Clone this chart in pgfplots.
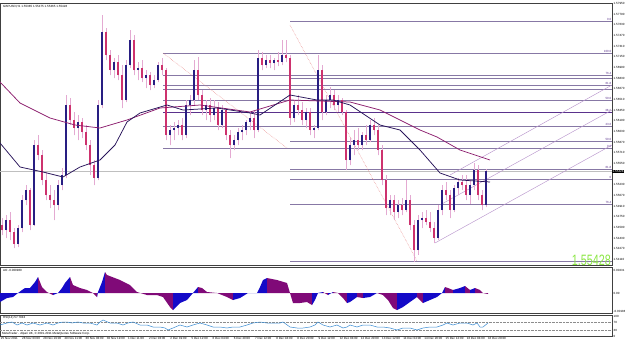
\documentclass[border=0pt]{standalone}
\usepackage{pgfplots}
\usepackage{pgfplotstable}
\pgfplotsset{compat=1.18}
\usepackage{fontspec}
\setmainfont{Liberation Sans}
\definecolor{upc}{RGB}{40,30,130}
\definecolor{dnc}{RGB}{205,50,110}
\definecolor{wick}{RGB}{228,170,210}
\definecolor{maA}{RGB}{40,20,90}
\definecolor{maB}{RGB}{140,30,110}
\definecolor{fibc}{RGB}{135,120,165}
\definecolor{fibd}{RGB}{90,50,140}
\definecolor{chan}{RGB}{185,150,205}
\definecolor{dotc}{RGB}{230,130,130}
\definecolor{aob}{RGB}{20,10,200}
\definecolor{aop}{RGB}{128,10,120}
\definecolor{rsic}{RGB}{60,140,210}
\definecolor{lgreen}{RGB}{140,230,70}
\newcommand{\tinyf}{\fontsize{3.0}{3.3}\selectfont}
\tikzset{fl/.style={pos=1, anchor=south east, font=\tinyf, text=fibd, inner sep=0.4pt}}
\pgfplotsset{cbar/.style={only marks, mark=*, mark size=0pt, mark options={draw=none, fill=none}}}

\pgfplotstableread{
x o h l c
2 1.54625 1.54730 1.54475 1.54550
6 1.54550 1.54775 1.54430 1.54700
10 1.54700 1.54820 1.54400 1.54520
14 1.54520 1.54580 1.54280 1.54340
18 1.54340 1.54625 1.54295 1.54580
22 1.54580 1.55075 1.54520 1.55000
26 1.55000 1.55225 1.54925 1.55150
30 1.55150 1.55180 1.54550 1.54625
34 1.54625 1.55900 1.54610 1.55825
38 1.55825 1.55975 1.55600 1.55675
42 1.55675 1.55750 1.55225 1.55300
46 1.55300 1.55420 1.55000 1.55075
50 1.55075 1.55225 1.54880 1.55000
54 1.55000 1.55150 1.54700 1.54925
58 1.54925 1.55300 1.54850 1.55225
62 1.55225 1.55480 1.55150 1.55375
66 1.55375 1.56575 1.55330 1.56425
70 1.56425 1.56530 1.56125 1.56200
74 1.56200 1.56320 1.55975 1.56080
78 1.56080 1.56275 1.55900 1.56170
82 1.56170 1.56230 1.55930 1.56020
86 1.56020 1.56125 1.55750 1.55825
90 1.55825 1.55900 1.55375 1.55525
94 1.55525 1.55600 1.55225 1.55330
98 1.55330 1.56500 1.55300 1.56425
102 1.56425 1.57775 1.56380 1.57520
106 1.57520 1.57580 1.57100 1.57175
110 1.57175 1.57250 1.56875 1.56950
114 1.56950 1.57130 1.56830 1.57070
118 1.57070 1.57175 1.56800 1.56875
122 1.56875 1.57025 1.56380 1.56500
126 1.56500 1.57100 1.56470 1.57025
130 1.57025 1.57550 1.56980 1.57400
134 1.57400 1.57475 1.56875 1.56950
138 1.56950 1.57070 1.56800 1.56980
142 1.56980 1.57100 1.56770 1.56830
146 1.56830 1.56950 1.56680 1.56875
150 1.56875 1.56920 1.56650 1.56725
154 1.56725 1.56875 1.56680 1.56800
158 1.56800 1.57070 1.56770 1.57025
162 1.57025 1.57130 1.56875 1.56950
166 1.56950 1.56980 1.55900 1.55975
170 1.55975 1.56125 1.55825 1.56050
174 1.56050 1.56170 1.55900 1.56080
178 1.56080 1.56200 1.55975 1.56125
182 1.56125 1.56230 1.55900 1.55975
186 1.55975 1.56500 1.55930 1.56425
190 1.56425 1.56575 1.56275 1.56500
194 1.56500 1.57100 1.56425 1.56950
198 1.56950 1.57145 1.56500 1.56575
202 1.56575 1.56650 1.56275 1.56350
206 1.56350 1.56500 1.56200 1.56425
210 1.56425 1.56530 1.56170 1.56275
214 1.56275 1.56500 1.56200 1.56380
218 1.56380 1.56470 1.56050 1.56125
222 1.56125 1.56425 1.56080 1.56350
226 1.56350 1.56380 1.55900 1.55975
230 1.55975 1.56050 1.55630 1.55825
234 1.55825 1.55975 1.55750 1.55900
238 1.55900 1.56080 1.55825 1.56020
242 1.56020 1.56125 1.55900 1.56050
246 1.56050 1.56200 1.55975 1.56170
250 1.56170 1.56320 1.56050 1.56230
254 1.56230 1.56350 1.55930 1.56050
258 1.56050 1.57250 1.56020 1.57130
262 1.57130 1.57220 1.56950 1.57025
266 1.57025 1.57175 1.56980 1.57100
270 1.57100 1.57175 1.56980 1.57055
274 1.57055 1.57130 1.56950 1.57100
278 1.57100 1.57220 1.57010 1.57070
282 1.57070 1.57400 1.57025 1.57175
286 1.57175 1.57400 1.57070 1.57130
290 1.57130 1.57175 1.56125 1.56230
294 1.56230 1.56500 1.56170 1.56425
298 1.56425 1.56575 1.56275 1.56350
302 1.56350 1.56470 1.56125 1.56200
306 1.56200 1.56380 1.56080 1.56320
310 1.56320 1.56380 1.55975 1.56050
314 1.56050 1.56125 1.55930 1.56080
318 1.56080 1.57175 1.56050 1.56950
322 1.56950 1.57025 1.56200 1.56320
326 1.56320 1.56575 1.56275 1.56500
330 1.56500 1.56695 1.56380 1.56575
334 1.56575 1.56650 1.56350 1.56425
338 1.56425 1.56575 1.56320 1.56500
342 1.56500 1.56530 1.56275 1.56320
346 1.56320 1.56350 1.55450 1.55600
350 1.55600 1.55930 1.55525 1.55825
354 1.55825 1.56050 1.55675 1.55900
358 1.55900 1.56080 1.55750 1.55825
362 1.55825 1.56020 1.55750 1.55975
366 1.55975 1.56125 1.55825 1.55900
370 1.55900 1.56200 1.55870 1.56125
374 1.56125 1.56230 1.55975 1.56050
378 1.56050 1.56125 1.55675 1.55750
382 1.55750 1.55825 1.55225 1.55300
386 1.55300 1.55375 1.54775 1.54880
390 1.54880 1.55075 1.54775 1.55000
394 1.55000 1.55075 1.54700 1.54820
398 1.54820 1.55000 1.54730 1.54925
402 1.54925 1.55030 1.54775 1.54850
406 1.54850 1.55300 1.54820 1.55000
410 1.55000 1.55075 1.54550 1.54625
414 1.54625 1.54700 1.54070 1.54250
418 1.54250 1.54775 1.54175 1.54700
422 1.54700 1.54820 1.54580 1.54730
426 1.54730 1.54850 1.54625 1.54670
430 1.54670 1.54820 1.54520 1.54580
434 1.54580 1.54670 1.54355 1.54430
438 1.54430 1.54925 1.54400 1.54850
442 1.54850 1.55225 1.54775 1.55150
446 1.55150 1.55270 1.55000 1.55075
450 1.55075 1.55150 1.54730 1.54850
454 1.54850 1.55225 1.54820 1.55180
458 1.55180 1.55330 1.55075 1.55270
462 1.55270 1.55375 1.55150 1.55225
466 1.55225 1.55375 1.55000 1.55075
470 1.55075 1.55300 1.54940 1.55225
474 1.55225 1.55555 1.55150 1.55450
478 1.55450 1.55525 1.55000 1.55075
482 1.55075 1.55150 1.54850 1.54925
486 1.54925 1.55465 1.54895 1.55428
}\candles

\begin{document}
\begin{tikzpicture}
\useasboundingbox (0pt,0pt) rectangle (625pt,-343pt);
% ---------------- main price panel ----------------
\begin{axis}[
  at={(0pt,-3pt)}, anchor=north west,
  scale only axis, width=612pt, height=262pt,
  xmin=0, xmax=612, ymin=1.54025, ymax=1.57955,
  clip=false,
  axis line style={black!75, line width=0.4pt},
  xtick=\empty,
  ytick pos=right, yticklabel pos=right,
  tick align=outside, major tick length=1.2pt,
  tick style={black, line width=0.3pt},
  ytick={1.5795,1.5779,1.5763,1.5747,1.5731,1.5715,1.5699,1.5683,1.5667,1.5651,1.5635,1.5619,1.5603,1.5587,1.5571,1.5555,1.5523,1.5507,1.5491,1.5475,1.5459,1.5443,1.5427,1.5411},
  yticklabels={1.57950,1.57790,1.57630,1.57470,1.57310,1.57150,1.56990,1.56830,1.56670,1.56510,1.56350,1.56190,1.56030,1.55870,1.55710,1.55550,1.55230,1.55070,1.54910,1.54750,1.54590,1.54430,1.54270,1.54110},
  yticklabel style={font=\tinyf, anchor=west, inner sep=0.3pt},
  scaled y ticks=false,
]
% current price line
\addplot[black!25, line width=0.4pt] coordinates {(0,1.55428) (612,1.55428)};
% fibonacci levels
\addplot[fibc, line width=0.5pt] coordinates {(290,1.57685) (612,1.57685)} node[fl]{0.0};
\addplot[fibc, line width=0.5pt] coordinates {(163,1.57205) (612,1.57205)} node[fl]{100.0};
\addplot[fibc, line width=0.5pt] coordinates {(163,1.56875) (612,1.56875)} node[fl]{76.4};
\addplot[fibc, line width=0.5pt] coordinates {(290,1.56830) (612,1.56830)};
\addplot[fibc, line width=0.5pt] coordinates {(163,1.56725) (612,1.56725)} node[fl]{61.8};
\addplot[fibc, line width=0.5pt] coordinates {(163,1.56665) (612,1.56665)};
\addplot[fibc, line width=0.5pt] coordinates {(163,1.56500) (612,1.56500)} node[fl]{50.0};
\addplot[fibd, line width=0.9pt] coordinates {(163,1.56320) (612,1.56320)} node[fl]{38.2};
\addplot[fibc, line width=0.5pt] coordinates {(163,1.56110) (612,1.56110)} node[fl]{23.6};
\addplot[fibc, line width=0.5pt] coordinates {(290,1.55885) (612,1.55885)} node[fl]{50.0};
\addplot[fibc, line width=0.5pt] coordinates {(163,1.55780) (612,1.55780)} node[fl]{0.0};
\addplot[fibc, line width=0.5pt] coordinates {(290,1.55465) (612,1.55465)} node[fl]{61.8};
\addplot[fibc, line width=0.5pt] coordinates {(290,1.55315) (612,1.55315)} node[fl]{0};
\addplot[fibc, line width=0.5pt] coordinates {(290,1.54940) (612,1.54940)} node[fl]{76.4};
\addplot[fibc, line width=0.5pt] coordinates {(290,1.54085) (612,1.54085)};
% fib trend lines
\addplot[dotc, densely dotted, line width=0.5pt] coordinates {(163,1.57205) (287,1.55780)};
\addplot[dotc, densely dotted, line width=0.5pt] coordinates {(290,1.57625) (417,1.54085)};
% channel
\addplot[chan, line width=0.45pt] coordinates {(435,1.54355) (612,1.55825)};
\addplot[chan, line width=0.45pt] coordinates {(440,1.54925) (612,1.56350)};
\addplot[chan, line width=0.45pt] coordinates {(450,1.55375) (612,1.56725)};
% wicks
\addplot[cbar, error bars/.cd, y dir=plus, y explicit, error mark=none,
  error bar style={wick, line width=0.6pt}]
  table[x=x, y=l, y error expr=\thisrow{h}-\thisrow{l}] {\candles};
% up bodies
\addplot[cbar, restrict expr to domain={\thisrow{c}-\thisrow{o}}{0:1},
  error bars/.cd, y dir=plus, y explicit, error mark=none,
  error bar style={upc, line width=1.3pt}]
  table[x=x, y=o, y error expr=\thisrow{c}-\thisrow{o}] {\candles};
% down bodies
\addplot[cbar, restrict expr to domain={\thisrow{c}-\thisrow{o}}{-1:0},
  error bars/.cd, y dir=plus, y explicit, error mark=none,
  error bar style={dnc, line width=1.3pt}]
  table[x=x, y=c, y error expr=\thisrow{o}-\thisrow{c}] {\candles};
% moving averages
\addplot[maB, line width=0.75pt] coordinates {(0,1.56770) (20,1.56455) (50,1.56230) (75,1.56125) (100,1.56080) (127,1.56200) (160,1.56380) (200,1.56425) (250,1.56320) (290,1.56500) (350,1.56470) (380,1.56350) (400,1.56200) (420,1.56050) (437,1.55945) (460,1.55750) (490,1.55600)};
\addplot[maA, line width=0.75pt] coordinates {(0,1.55855) (20,1.55495) (43,1.55420) (63,1.55345) (80,1.55495) (100,1.55600) (115,1.55825) (127,1.56170) (140,1.56305) (167,1.56425) (183,1.56350) (217,1.56380) (250,1.56305) (260,1.56275) (290,1.56575) (317,1.56500) (333,1.56500) (350,1.56425) (380,1.56125) (400,1.56050) (420,1.55750) (440,1.55405) (460,1.55300) (490,1.55270)};
% price box and big label
\node[fill=black, text=white, font=\tinyf, inner sep=0.5pt, anchor=west] at (axis cs:612,1.55428) {1.55428};
\node[anchor=base east, text=lgreen, font=\fontsize{15}{15}\selectfont, xscale=0.72, inner sep=0pt] at (axis cs:611,1.54010) {1.55428};
\end{axis}
\node[anchor=north west, inner sep=0pt, font=\tinyf] at (3pt,-5pt) {GBPUSD,H1 1.55385 1.55475 1.55365 1.55428};
% ---------------- AO panel ----------------
\begin{axis}[
  at={(0pt,-267pt)}, anchor=north west,
  scale only axis, width=612pt, height=46pt,
  xmin=0, xmax=612, ymin=-0.0020, ymax=0.0026,
  axis line style={black!75, line width=0.4pt},
  xtick=\empty,
  ytick pos=right, yticklabel pos=right,
  tick align=outside, major tick length=1.2pt,
  tick style={black, line width=0.3pt},
  ytick={0.0023,0,-0.0018},
  yticklabels={0.00231,0.00,-0.00188},
  yticklabel style={font=\tinyf, anchor=west, inner sep=0.3pt},
  scaled y ticks=false,
]
\addplot[fill=aob, draw=none] coordinates {(0,-0.0009) (7,-0.0005) (13,-0.0004) (18,0) (22,0.0003) (25,0.0005) (30,0.0005) (35,0.0011) (38,0.0016)} \closedcycle;
\addplot[fill=aop, draw=none] coordinates {(38,0.0016) (42,0.0006) (47,0.0001) (53,-0.0002)} \closedcycle;
\addplot[fill=aob, draw=none] coordinates {(53,-0.0002) (58,0) (62,0.0005) (65,0.0010) (70,0.0016)} \closedcycle;
\addplot[fill=aop, draw=none] coordinates {(70,0.0016) (73,0.0008) (80,0.0005) (87,0.0003) (93,0) (97,-0.0004)} \closedcycle;
\addplot[fill=aob, draw=none] coordinates {(97,-0.0004) (98,0.0001) (102,0.0011) (105,0.0021)} \closedcycle;
\addplot[fill=aop, draw=none] coordinates {(105,0.0021) (107,0.0018) (120,0.0013) (130,0.0008) (137,0.0001) (147,-0.0002) (157,-0.0002) (163,-0.0004) (170,-0.0014) (173,-0.0017)} \closedcycle;
\addplot[fill=aob, draw=none] coordinates {(173,-0.0017) (180,-0.0010) (187,-0.0007) (193,0) (198,0.0006)} \closedcycle;
\addplot[fill=aop, draw=none] coordinates {(198,0.0006) (202,0.0005) (207,0.0001) (217,0) (227,-0.0004) (233,-0.0007)} \closedcycle;
\addplot[fill=aob, draw=none] coordinates {(233,-0.0007) (240,-0.0005) (248,0) (257,0) (260,0.0006) (263,0.0013) (267,0.0015)} \closedcycle;
\addplot[fill=aop, draw=none] coordinates {(267,0.0015) (277,0.0013) (287,0.0010) (290,0) (293,-0.0010) (300,-0.0010) (307,-0.0009) (312,-0.0012)} \closedcycle;
\addplot[fill=aob, draw=none] coordinates {(312,-0.0012) (315,-0.0007) (318,0) (323,0.0001)} \closedcycle;
\addplot[fill=aop, draw=none] coordinates {(323,0.0001) (328,-0.0002)} \closedcycle;
\addplot[fill=aob, draw=none] coordinates {(328,-0.0002) (333,0.0001)} \closedcycle;
\addplot[fill=aop, draw=none] coordinates {(333,0.0001) (338,0) (343,-0.0005) (347,-0.0010)} \closedcycle;
\addplot[fill=aob, draw=none] coordinates {(347,-0.0010) (350,-0.0009) (357,-0.0004)} \closedcycle;
\addplot[fill=aop, draw=none] coordinates {(357,-0.0004) (363,-0.0005)} \closedcycle;
\addplot[fill=aob, draw=none] coordinates {(363,-0.0005) (370,-0.0004) (377,0)} \closedcycle;
\addplot[fill=aop, draw=none] coordinates {(377,0) (383,-0.0002) (388,-0.0007) (393,-0.0015) (397,-0.0017)} \closedcycle;
\addplot[fill=aob, draw=none] coordinates {(397,-0.0017) (403,-0.0014) (410,-0.0009) (417,-0.0004)} \closedcycle;
\addplot[fill=aop, draw=none] coordinates {(417,-0.0004) (423,-0.0010)} \closedcycle;
\addplot[fill=aob, draw=none] coordinates {(423,-0.0010) (430,-0.0007) (437,-0.0004) (442,0) (445,0.0006)} \closedcycle;
\addplot[fill=aop, draw=none] coordinates {(445,0.0006) (448,0.0005) (453,0.0003)} \closedcycle;
\addplot[fill=aob, draw=none] coordinates {(453,0.0003) (460,0.0005) (465,0.0007)} \closedcycle;
\addplot[fill=aop, draw=none] coordinates {(465,0.0007) (470,0.0003)} \closedcycle;
\addplot[fill=aob, draw=none] coordinates {(470,0.0003) (475,0.0005)} \closedcycle;
\addplot[fill=aop, draw=none] coordinates {(475,0.0005) (480,0.0003) (483,0) (488,-0.0001)} \closedcycle;
\end{axis}
\node[anchor=north west, inner sep=0pt, font=\tinyf] at (3pt,-269pt) {AO -0.000960};
% ---------------- RSI panel ----------------
\begin{axis}[
  at={(0pt,-315pt)}, anchor=north west,
  scale only axis, width=612pt, height=21pt,
  xmin=0, xmax=612, ymin=0, ymax=105,
  axis line style={black!75, line width=0.4pt},
  ytick pos=right, yticklabel pos=right,
  xtick pos=bottom,
  tick align=outside, major tick length=1.2pt,
  tick style={black, line width=0.3pt},
  ytick={100,70,30,0}, yticklabels={100,70,30,0},
  yticklabel style={font=\tinyf, anchor=west, inner sep=0.3pt},
  xtick={0,21.17,42.35,63.52,84.70,105.87,127.04,148.22,169.39,190.57,211.74,232.91,254.09,275.26,296.43,317.61,338.78,359.96,381.13,402.30,423.48,444.65,465.83,487.00},
  xticklabels={25 Nov 2011,28 Nov 03:00,28 Nov 19:00,29 Nov 11:00,30 Nov 03:00,30 Nov 19:00,1 Dec 11:00,2 Dec 03:00,2 Dec 19:00,5 Dec 12:00,6 Dec 04:00,6 Dec 20:00,7 Dec 12:00,8 Dec 04:00,8 Dec 20:00,9 Dec 12:00,12 Dec 04:00,12 Dec 20:00,13 Dec 12:00,14 Dec 04:00,14 Dec 20:00,15 Dec 12:00,16 Dec 04:00,16 Dec 20:00},
  xticklabel style={font=\tinyf, anchor=north west, inner sep=0.5pt, xshift=0.3pt},
]
\addplot[black!45, densely dotted, line width=0.4pt] coordinates {(0,70) (612,70)};
\addplot[black!45, densely dotted, line width=0.4pt] coordinates {(0,30) (612,30)};
\addplot[rsic, line width=0.5pt] coordinates {(0,55) (7,65) (12,70) (17,55) (22,65) (27,55) (33,65) (40,55) (47,65) (53,55) (58,65) (63,70) (67,70) (72,65) (78,70) (83,65) (90,65) (97,55) (100,70) (103,80) (110,65) (117,65) (123,55) (128,65) (133,70) (140,55) (147,55) (153,45) (160,45) (165,40) (168,30) (173,40) (180,55) (187,45) (193,55) (200,65) (207,55) (213,45) (220,45) (227,40) (233,45) (240,45) (247,55) (253,65) (260,70) (267,65) (273,65) (280,65) (283,70) (290,45) (297,40) (303,40) (310,45) (315,55) (318,70) (323,55) (330,45) (337,55) (343,40) (347,45) (350,55) (357,45) (363,55) (370,55) (377,45) (383,45) (390,40) (397,30) (403,40) (410,40) (417,30) (423,40) (430,45) (437,45) (443,55) (447,65) (453,55) (460,65) (467,65) (473,55) (477,65) (480,45) (483,45) (488,65)};
\end{axis}
\node[anchor=north west, inner sep=0pt, font=\tinyf] at (3pt,-316.5pt) {RSI(14) 57.7043};
\node[anchor=south west, inner sep=0pt, font=\tinyf] at (2pt,-335.5pt) {MetaTrader - Alpari UK, © 2001-2011 MetaQuotes Software Corp.};
\end{tikzpicture}
\end{document}
